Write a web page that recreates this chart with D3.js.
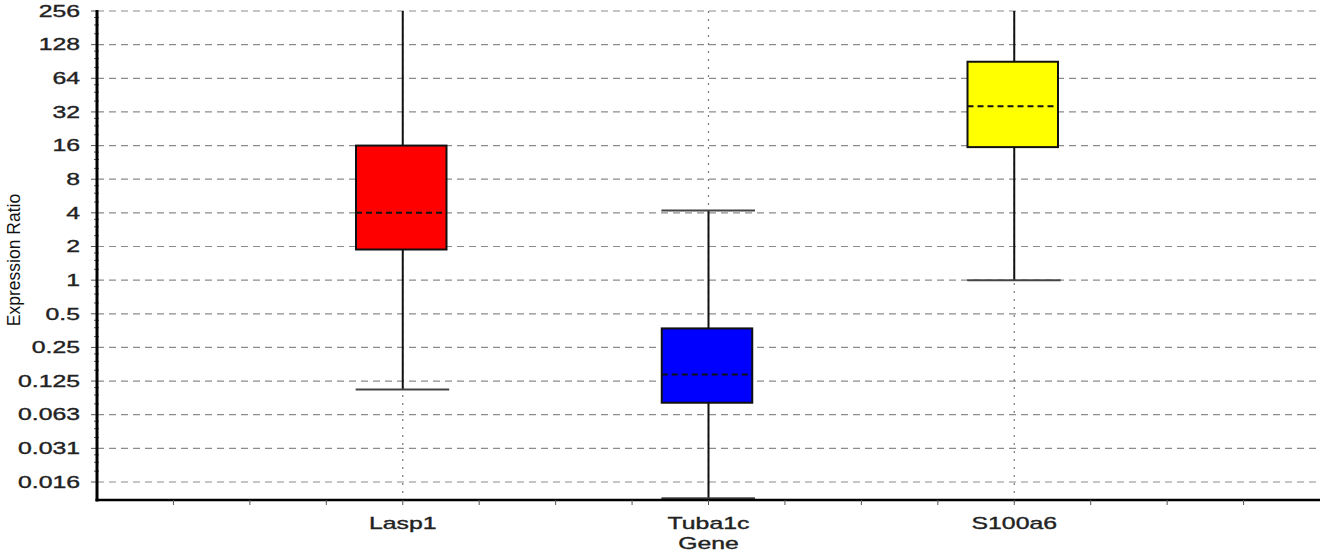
<!DOCTYPE html>
<html>
<head>
<meta charset="utf-8">
<script src="https://cdn.jsdelivr.net/npm/d3@7"></script>
<style>
  html, body { margin: 0; padding: 0; background: #fff; }
  svg { display: block; }
  text { font-family: "Liberation Sans", Arial, sans-serif; }
  .lbl { stroke: #222; stroke-width: 0.35; }
</style>
</head>
<body>
<svg id="chart" width="1325" height="552"></svg>
<script>
// ---- data ----
const genes = ["Lasp1", "Tuba1c", "S100a6"];
const genePos = [1, 2, 3];
const whiskerLow = [0.105, 0.0112, 1.0];
const q1 = [1.88, 0.080, 15.5];
const median = [4.0, 0.143, 36];
const q3 = [16, 0.37, 90];
const whiskerHigh = [300, 4.2, 300];
const boxColors = ["#ff0000", "#0000ff", "#ffff00"];
const yTickValues = [256, 128, 64, 32, 16, 8, 4, 2, 1, 0.5, 0.25, 0.125, 0.0625, 0.03125, 0.015625];
const yTickLabels = ["256", "128", "64", "32", "16", "8", "4", "2", "1", "0.5", "0.25", "0.125", "0.063", "0.031", "0.016"];
const xMinorTicks = [0.25, 0.5, 0.75, 1, 1.25, 1.5, 1.75, 2, 2.25, 2.5, 2.75, 3, 3.25, 3.5, 3.75];

(function () {
// ---- layout ----
const pLeft = 97, pRight = 1320, pTop = 11, pBottom = 500;
const stretch = 1.55;
const boxHalf = 0.148;

const svg = d3.select("#chart");
const x = d3.scaleLinear().domain([0, 4]).range([pLeft, pRight]);
const y = d3.scaleLog().base(2).domain([Math.pow(2, -6.535), 256]).range([pBottom, pTop]);

svg.append("defs").append("clipPath").attr("id", "plotclip")
  .append("rect").attr("x", pLeft).attr("y", pTop).attr("width", pRight - pLeft).attr("height", pBottom - pTop);

// horizontal grid
svg.append("g").selectAll("line").data(yTickValues).join("line")
  .attr("x1", pLeft).attr("x2", pRight)
  .attr("y1", d => y(d)).attr("y2", d => y(d))
  .attr("stroke", "#8c8c8c").attr("stroke-width", 1.2)
  .attr("stroke-dasharray", "7,5");

// vertical category grid
svg.append("g").selectAll("line").data(genePos).join("line")
  .attr("x1", d => x(d)).attr("x2", d => x(d))
  .attr("y1", pTop).attr("y2", pBottom)
  .attr("stroke", "#777").attr("stroke-width", 1.2)
  .attr("stroke-dasharray", "2,6");

// boxes
const boxes = svg.append("g").attr("clip-path", "url(#plotclip)");
const idx = d3.range(genes.length);
boxes.selectAll("line.wv").data(idx).join("line").attr("class", "wv")
  .attr("x1", i => x(genePos[i])).attr("x2", i => x(genePos[i]))
  .attr("y1", i => y(whiskerLow[i])).attr("y2", i => y(whiskerHigh[i]))
  .attr("stroke", "#111").attr("stroke-width", 2);
const caps = [];
idx.forEach(i => { caps.push({i, v: whiskerLow[i]}); caps.push({i, v: whiskerHigh[i]}); });
boxes.selectAll("line.cap").data(caps).join("line").attr("class", "cap")
  .attr("x1", d => x(genePos[d.i] - boxHalf - 0.006)).attr("x2", d => x(genePos[d.i] + boxHalf + 0.004))
  .attr("y1", d => y(d.v)).attr("y2", d => y(d.v))
  .attr("stroke", "#444").attr("stroke-width", 2);
boxes.selectAll("rect.box").data(idx).join("rect").attr("class", "box")
  .attr("x", i => x(genePos[i] - boxHalf) - 1.5)
  .attr("width", i => x(genePos[i] + boxHalf) - x(genePos[i] - boxHalf))
  .attr("y", i => y(q3[i]))
  .attr("height", i => y(q1[i]) - y(q3[i]))
  .attr("fill", i => boxColors[i])
  .attr("stroke", "#111").attr("stroke-width", 2);
boxes.selectAll("line.med").data(idx).join("line").attr("class", "med")
  .attr("x1", i => x(genePos[i] - boxHalf) - 1.5).attr("x2", i => x(genePos[i] + boxHalf) - 1.5)
  .attr("y1", i => y(median[i])).attr("y2", i => y(median[i]))
  .attr("stroke", "#111").attr("stroke-width", 2)
  .attr("stroke-dasharray", "6,4");

// y axis minor ticks
const minor = [];
yTickValues.forEach(v => { [1.25, 1.5, 1.75].forEach(m => { if (v * m <= 256) minor.push(v * m); }); });
svg.append("g").selectAll("line").data(minor).join("line")
  .attr("x1", pLeft - 3).attr("x2", pLeft + 2)
  .attr("y1", d => y(d)).attr("y2", d => y(d))
  .attr("stroke", "#555").attr("stroke-width", 1);
svg.append("g").selectAll("line").data(yTickValues).join("line")
  .attr("x1", pLeft - 6).attr("x2", pLeft)
  .attr("y1", d => y(d)).attr("y2", d => y(d))
  .attr("stroke", "#555").attr("stroke-width", 1);
svg.append("g").selectAll("g").data(yTickValues).join("g")
  .attr("transform", d => `translate(${pLeft - 17},${y(d)}) scale(${stretch},1)`)
  .append("text").attr("class", "lbl")
  .attr("text-anchor", "end").attr("dy", "0.36em")
  .attr("font-size", 16).attr("fill", "#222")
  .text((d, i) => yTickLabels[i]);

// axis lines
svg.append("line").attr("x1", pLeft).attr("x2", pLeft).attr("y1", pTop - 1).attr("y2", pBottom + 1.5)
  .attr("stroke", "#000").attr("stroke-width", 3);
svg.append("line").attr("x1", pLeft - 1.5).attr("x2", pRight).attr("y1", pBottom).attr("y2", pBottom)
  .attr("stroke", "#000").attr("stroke-width", 2.5);

// x ticks
svg.append("g").selectAll("line").data(xMinorTicks).join("line")
  .attr("x1", d => x(d)).attr("x2", d => x(d))
  .attr("y1", pBottom).attr("y2", pBottom + 5)
  .attr("stroke", "#555").attr("stroke-width", 1);

// x labels
svg.append("g").selectAll("g").data(idx).join("g")
  .attr("transform", i => `translate(${x(genePos[i])},529) scale(${stretch},1)`)
  .append("text").attr("class", "lbl").attr("text-anchor", "middle")
  .attr("font-size", 16).attr("fill", "#222")
  .text(i => genes[i]);

// axis titles
svg.append("g").attr("transform", `translate(${x(2)},549) scale(${stretch},1)`)
  .append("text").attr("class", "lbl").attr("text-anchor", "middle").attr("font-size", 16).attr("fill", "#222").text("Gene");
svg.append("text").attr("transform", "translate(20,260) rotate(-90)")
  .attr("text-anchor", "middle").attr("font-size", 17.5).attr("fill", "#111")
  .text("Expression Ratio");
})();
</script>
</body>
</html>
